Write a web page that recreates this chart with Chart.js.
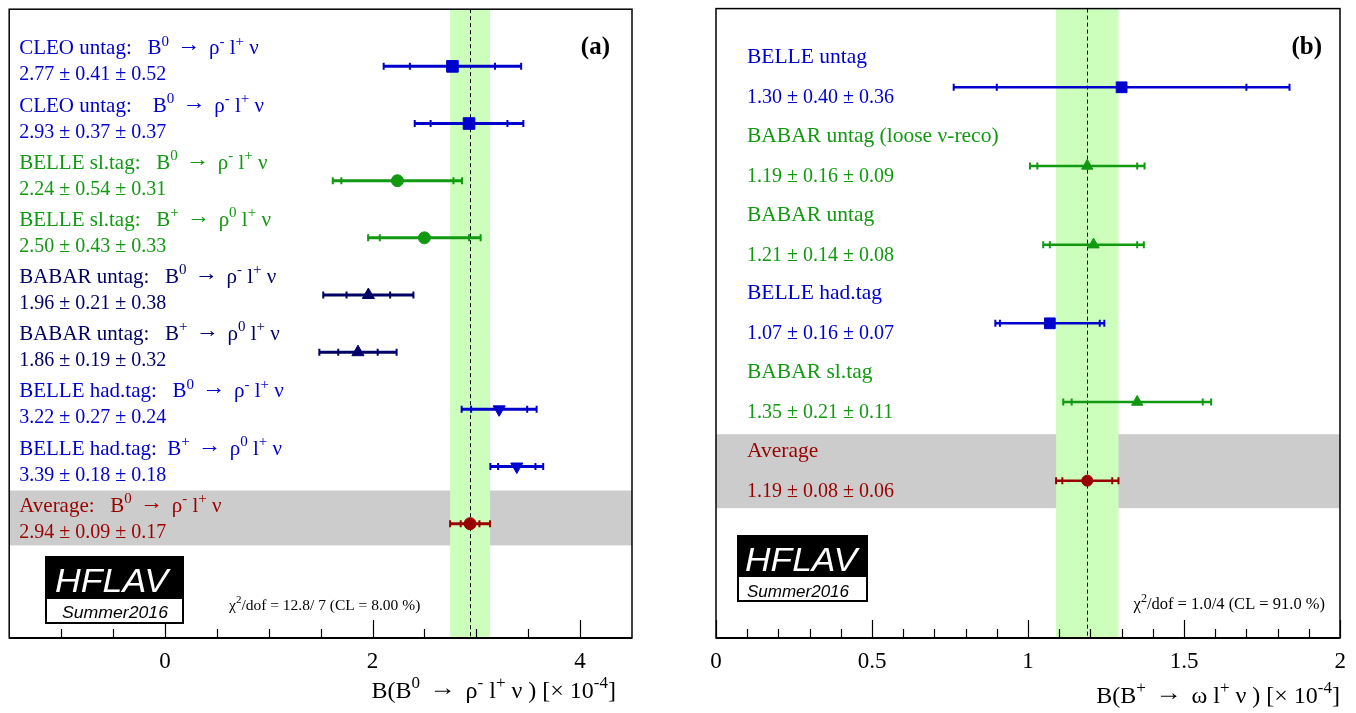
<!DOCTYPE html>
<html>
<head>
<meta charset="utf-8">
<script src="https://cdn.jsdelivr.net/npm/chart.js@4.4.0/dist/chart.umd.min.js"></script>
<style>
    html, body { margin: 0; padding: 0; background: #fff; }
    #wrap { position: relative; width: 1356px; height: 713px; }
    canvas { position: absolute; top: 0; }
    #chartA { left: 0; }
    #chartB { left: 678px; }
</style>
</head>
<body>
<div id="wrap">
    <canvas id="chartA" width="678" height="713"></canvas>
    <canvas id="chartB" width="678" height="713"></canvas>
</div>
<script>
// ---- panel (a): B0 -> rho- l+ nu ----
const namesA = [
    'CLEO untag:   B^{0} \u2192 \u03c1^{-} l^{+} \u03bd',
    'CLEO untag:    B^{0} \u2192 \u03c1^{-} l^{+} \u03bd',
    'BELLE sl.tag:   B^{0} \u2192 \u03c1^{-} l^{+} \u03bd',
    'BELLE sl.tag:   B^{+} \u2192 \u03c1^{0} l^{+} \u03bd',
    'BABAR untag:   B^{0} \u2192 \u03c1^{-} l^{+} \u03bd',
    'BABAR untag:   B^{+} \u2192 \u03c1^{0} l^{+} \u03bd',
    'BELLE had.tag:   B^{0} \u2192 \u03c1^{-} l^{+} \u03bd',
    'BELLE had.tag:  B^{+} \u2192 \u03c1^{0} l^{+} \u03bd',
    'Average:   B^{0} \u2192 \u03c1^{-} l^{+} \u03bd'
];
const valuesA = [2.77, 2.93, 2.24, 2.50, 1.96, 1.86, 3.22, 3.39, 2.94];
const statA   = [0.41, 0.37, 0.54, 0.43, 0.21, 0.19, 0.27, 0.18, 0.09];
const systA   = [0.52, 0.37, 0.31, 0.33, 0.38, 0.32, 0.24, 0.18, 0.17];
const colorsA = ['#0000cc', '#0000cc', '#119911', '#119911', '#000066', '#000066', '#0000cc', '#0000cc', '#990000'];
const markersA = ['rect', 'rect', 'circle', 'circle', 'triangle', 'triangle', 'triangleDown', 'triangleDown', 'circle'];
const tickLabelsA = [0, 2, 4];

// ---- panel (b): B+ -> omega l+ nu ----
const namesB = [
    'BELLE untag',
    'BABAR untag (loose \u03bd-reco)',
    'BABAR untag',
    'BELLE had.tag',
    'BABAR sl.tag',
    'Average'
];
const valuesB = [1.30, 1.19, 1.21, 1.07, 1.35, 1.19];
const statB   = [0.40, 0.16, 0.14, 0.16, 0.21, 0.08];
const systB   = [0.36, 0.09, 0.08, 0.07, 0.11, 0.06];
const colorsB = ['#0000cc', '#119911', '#119911', '#0000cc', '#119911', '#990000'];
const markersB = ['rect', 'triangle', 'triangle', 'rect', 'triangle', 'circle'];
const tickLabelsB = [0, 0.5, 1, 1.5, 2];

const SERIF = '"Liberation Serif", "Times New Roman", serif';
const SANS = '"Liberation Sans", Arial, sans-serif';

// draws text with ^{...} superscripts, and a wider arrow like ROOT's #rightarrow
function drawRich(ctx, str, x, y, size, color, align) {
    const parts = [];
    const re = /\^\{([^}]*)\}|\u2192/g;
    let last = 0, m;
    while ((m = re.exec(str))) {
        if (m.index > last) parts.push({ t: str.slice(last, m.index), kind: 'n' });
        if (m[0] === '\u2192') parts.push({ t: '\u2192', kind: 'arrow' });
        else parts.push({ t: m[1], kind: 'sup' });
        last = re.lastIndex;
    }
    if (last < str.length) parts.push({ t: str.slice(last), kind: 'n' });
    const supSize = Math.round(size * 0.72);
    const arrowW = size * 1.1, arrowPad = size * 0.15;
    let w = 0;
    parts.forEach(p => {
        ctx.font = (p.kind === 'sup' ? supSize : size) + 'px ' + SERIF;
        p.nat = ctx.measureText(p.t).width;
        p.w = p.kind === 'arrow' ? arrowW + 2 * arrowPad : p.nat;
        w += p.w;
    });
    let cx = align === 'right' ? x - w : (align === 'center' ? x - w / 2 : x);
    ctx.fillStyle = color;
    ctx.textAlign = 'left';
    ctx.textBaseline = 'alphabetic';
    parts.forEach(p => {
        ctx.font = (p.kind === 'sup' ? supSize : size) + 'px ' + SERIF;
        if (p.kind === 'arrow') {
            ctx.save();
            ctx.translate(cx + arrowPad, y - size * 0.14);
            ctx.scale(arrowW / p.nat, 1);
            ctx.fillText(p.t, 0, 0);
            ctx.restore();
        } else {
            ctx.fillText(p.t, cx, p.kind === 'sup' ? y - size * 0.42 : y);
        }
        cx += p.w;
    });
}

function fitText(ctx, text, font, x, baseline, width, color) {
    ctx.save();
    ctx.font = font;
    const tw = ctx.measureText(text).width;
    ctx.translate(x, baseline);
    ctx.scale(width / tw, 1);
    ctx.fillStyle = color;
    ctx.textAlign = 'left';
    ctx.textBaseline = 'alphabetic';
    ctx.fillText(text, 0, 0);
    ctx.restore();
}

function drawLogo(ctx, L) {
    ctx.fillStyle = '#000';
    ctx.fillRect(L.x, L.y, L.w, L.h);
    ctx.fillStyle = '#fff';
    ctx.fillRect(L.x + 2, L.y + L.h - L.sh - 2, L.w - 4, L.sh);
    fitText(ctx, 'HFLAV', 'italic ' + L.hs + 'px ' + SANS, L.hx, L.hb, L.hw, '#fff');
    fitText(ctx, 'Summer2016', 'italic ' + L.ss + 'px ' + SANS, L.sx, L.sb, L.sw, '#000');
}

function buildDatasets(vals, stat, syst, colors, markers, lw, msize) {
    const ds = [];
    vals.forEach((v, i) => {
        const tot = Math.hypot(stat[i], syst[i]);
        // total error bar line
        ds.push({
            data: [{ x: v - tot, y: i }, { x: v + tot, y: i }],
            showLine: true, borderColor: colors[i], borderWidth: lw,
            pointRadius: 0
        });
        // small ticks at stat and total ends
        ds.push({
            data: [v - tot, v - stat[i], v + stat[i], v + tot].map(x => ({ x: x, y: i })),
            pointStyle: 'line', pointRotation: 90, pointRadius: 3.5,
            pointBorderColor: colors[i], pointBorderWidth: 2
        });
        // central marker
        const mk = markers[i];
        let r = msize.circle;
        if (mk === 'rect') r = msize.rect;
        if (mk === 'triangle' || mk === 'triangleDown') r = msize.triangle;
        ds.push({
            data: [{ x: v, y: i }],
            pointStyle: mk === 'triangleDown' ? 'triangle' : mk,
            pointRotation: mk === 'triangleDown' ? 180 : 0,
            pointRadius: r,
            pointBackgroundColor: colors[i], pointBorderColor: colors[i], pointBorderWidth: 1
        });
    });
    return ds;
}

function makePanel(canvasId, P) {
    const avg = P.values[P.values.length - 1];
    const avgErr = Math.hypot(P.stat[P.stat.length - 1], P.syst[P.syst.length - 1]);

    const panelPlugin = {
        id: 'panel_' + canvasId,
        beforeDatasetsDraw(chart) {
            const ctx = chart.ctx, a = chart.chartArea;
            const xs = chart.scales.x, ys = chart.scales.y;
            ctx.save();
            // grey band behind the average
            const g0 = ys.getPixelForValue(P.band[0]), g1 = ys.getPixelForValue(P.band[1]);
            ctx.fillStyle = '#cccccc';
            ctx.fillRect(a.left, g0, a.right - a.left, g1 - g0);
            // green average band
            const b0 = xs.getPixelForValue(avg - avgErr), b1 = xs.getPixelForValue(avg + avgErr);
            ctx.fillStyle = '#ccffbb';
            ctx.fillRect(b0, a.top, b1 - b0, a.bottom - a.top);
            // dashed average line
            const xm = Math.round(xs.getPixelForValue(avg)) + 0.5;
            ctx.strokeStyle = '#000';
            ctx.lineWidth = 1;
            ctx.setLineDash([4, 3]);
            ctx.beginPath();
            ctx.moveTo(xm, a.top);
            ctx.lineTo(xm, a.bottom);
            ctx.stroke();
            ctx.setLineDash([]);
            // row texts
            P.values.forEach((v, i) => {
                const y = ys.getPixelForValue(i);
                drawRich(ctx, P.names[i], a.left + P.textDx, y + P.nameDy, P.nameFont, P.colors[i], 'left');
                const s = v.toFixed(2) + ' \u00b1 ' + P.stat[i].toFixed(2) + ' \u00b1 ' + P.syst[i].toFixed(2);
                drawRich(ctx, s, a.left + P.textDx, y + P.valDy, P.font, P.colors[i], 'left');
            });
            ctx.restore();
        },
        afterDraw(chart) {
            const ctx = chart.ctx, a = chart.chartArea;
            const xs = chart.scales.x;
            ctx.save();
            // frame
            ctx.strokeStyle = '#000';
            ctx.lineWidth = 1.5;
            ctx.strokeRect(a.left, a.top, a.right - a.left, a.bottom - a.top);
            ctx.lineWidth = 2;
            ctx.beginPath();
            ctx.moveTo(a.left, a.bottom);
            ctx.lineTo(a.right, a.bottom);
            ctx.stroke();
            // ticks (inward)
            ctx.lineWidth = 1.2;
            const nMinor = Math.round((P.tickMax - P.tickMin) / P.minor);
            for (let k = 0; k <= nMinor; k++) {
                const t = P.tickMin + k * P.minor;
                const isMajor = Math.abs(t / P.major - Math.round(t / P.major)) < 1e-6;
                const px = Math.round(xs.getPixelForValue(t)) + 0.5;
                ctx.beginPath();
                ctx.moveTo(px, a.bottom);
                ctx.lineTo(px, a.bottom - (isMajor ? 18 : 9));
                ctx.stroke();
            }
            // tick labels
            ctx.fillStyle = '#000';
            ctx.font = '23px ' + SERIF;
            ctx.textBaseline = 'alphabetic';
            P.tickLabels.forEach(t => {
                let px = xs.getPixelForValue(t);
                ctx.textAlign = 'center';
                if (t === P.tickLabels[P.tickLabels.length - 1] && P.lastRight) { ctx.textAlign = 'right'; px += 6; }
                ctx.fillText(String(t), px, a.bottom + 30);
            });
            // axis title
            drawRich(ctx, P.title, P.titleX, P.titleY, 24, '#000', 'right');
            // panel tag
            ctx.font = 'bold 25px ' + SERIF;
            ctx.textAlign = 'right';
            ctx.fillStyle = '#000';
            ctx.fillText(P.tag, P.tagX, 54);
            // chi2
            drawRich(ctx, P.chi2, P.chi2X, P.chi2Y, P.chi2Size, '#000', P.chi2Align);
            // logo
            drawLogo(ctx, P.logo);
            ctx.restore();
        }
    };

    return new Chart(document.getElementById(canvasId), {
        type: 'scatter',
        data: { datasets: buildDatasets(P.values, P.stat, P.syst, P.colors, P.markers, P.lw, P.msize) },
        options: {
            responsive: false,
            animation: false,
            events: [],
            layout: { padding: P.padding },
            scales: {
                x: { type: 'linear', min: P.xMin, max: P.xMax, display: false },
                y: { type: 'linear', min: P.yMin, max: P.yMax, reverse: true, display: false }
            },
            plugins: { legend: { display: false }, tooltip: { enabled: false } }
        },
        plugins: [panelPlugin]
    });
}

makePanel('chartA', {
    names: namesA, values: valuesA, stat: statA, syst: systA, colors: colorsA, markers: markersA,
    tickLabels: tickLabelsA, tickMin: -1, tickMax: 4, minor: 0.5, major: 2, lastRight: false,
    padding: { left: 8, right: 46, top: 8, bottom: 75 },
    xMin: -1.5, xMax: 4.5, yMin: -1, yMax: 10,
    band: [7.42, 8.38],
    textDx: 10, nameDy: -12, valDy: 14, font: 20, nameFont: 21,
    lw: 3, msize: { rect: 8.2, circle: 6, triangle: 7 },
    title: 'B(B^{0} \u2192 \u03c1^{-} l^{+} \u03bd ) [\u00d7 10^{-4}]', titleX: 616, titleY: 698,
    tag: '(a)', tagX: 610,
    chi2: '\u03c7^{2}/dof = 12.8/ 7 (CL = 8.00 %)', chi2X: 229, chi2Y: 610, chi2Size: 15.5, chi2Align: 'left',
    logo: { x: 45, y: 556, w: 139, h: 68, sh: 23, hx: 55, hw: 113, hb: 592, hs: 33, sx: 62, sw: 106, sb: 618, ss: 17 }
});

makePanel('chartB', {
    names: namesB, values: valuesB, stat: statB, syst: systB, colors: colorsB, markers: markersB,
    tickLabels: tickLabelsB, tickMin: 0, tickMax: 2, minor: 0.1, major: 0.5, lastRight: true,
    padding: { left: 38, right: 16, top: 8, bottom: 75 },
    xMin: 0, xMax: 2, yMin: -1, yMax: 7,
    band: [4.41, 5.35],
    textDx: 31, nameDy: -24, valDy: 16, font: 20, nameFont: 21.5,
    lw: 2.5, msize: { rect: 7.6, circle: 5.5, triangle: 6.5 },
    title: 'B(B^{+} \u2192 \u03c9 l^{+} \u03bd ) [\u00d7 10^{-4}]', titleX: 662, titleY: 703,
    tag: '(b)', tagX: 644,
    chi2: '\u03c7^{2}/dof = 1.0/4 (CL = 91.0 %)', chi2X: 647, chi2Y: 609, chi2Size: 16.5, chi2Align: 'right',
    logo: { x: 59, y: 535, w: 131, h: 67, sh: 23, hx: 67, hw: 112, hb: 571, hs: 33, sx: 69, sw: 102, sb: 597, ss: 17 }
});
</script>
</body>
</html>
